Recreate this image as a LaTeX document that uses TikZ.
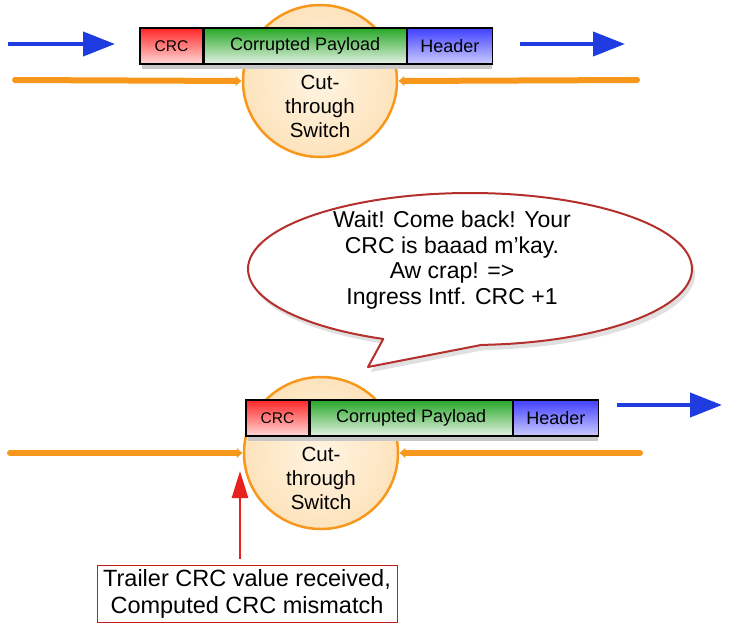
\documentclass[tikz,border=0pt]{standalone}
\usepackage{fontspec}
\setmainfont{Liberation Sans}
\usetikzlibrary{shapes.geometric,arrows.meta}
\definecolor{barblue}{HTML}{1F3CE0}
\definecolor{orng}{HTML}{F7981D}
\definecolor{swfill}{HTML}{FDE3BC}
\definecolor{swin}{HTML}{FFF4E2}
\definecolor{bubred}{HTML}{B3302C}
\definecolor{arrred}{HTML}{E8201E}
\tikzset{
  blueArrow/.style={draw=barblue,line width=4pt,-{Triangle[length=32pt,width=24pt]}},
  orangeLine/.style={draw=orng,line width=6pt,line cap=round,-{Latex[length=6pt,width=11pt]}},
  switchNode/.style={ellipse,draw=orng,line width=2.5pt,minimum width=154pt,minimum height=152pt,inner color=swin,outer color=swfill,inner sep=0pt},
  swText/.style={align=center,font=\fontsize{20.5}{24}\selectfont},
  pktFrame/.style={rectangle,draw=black,line width=2pt,minimum width=350pt,minimum height=36pt,inner sep=0pt,fill=white,
    preaction={fill=black!22,draw=none,transform canvas={xshift=2pt,yshift=-5pt}}},
  pktPart/.style={rectangle,draw=black,line width=1.2pt,minimum height=36pt,inner sep=0pt,font=\fontsize{18}{20}\selectfont},
  crcPart/.style={pktPart,minimum width=63pt,top color=red!85!white,bottom color=red!15!white,font=\fontsize{15.5}{17}\selectfont},
  payPart/.style={pktPart,minimum width=202pt,top color=green!60!black!85!white,bottom color=green!45!black!10!white},
  hdrPart/.style={pktPart,minimum width=85pt,top color=blue!75!white,bottom color=blue!20!white},
  bubble/.style={draw=bubred,line width=2pt,fill=white,line join=round,
    preaction={fill=black!12,draw=none,transform canvas={xshift=3pt,yshift=-5pt}}},
  bigText/.style={align=center,font=\fontsize{23}{25.5}\selectfont},
  redArrow/.style={draw=arrred,line width=2.5pt,-{Triangle[length=27pt,width=16pt]}},
  noteBox/.style={rectangle,draw=arrred!85!black,line width=1pt,fill=white,align=center,minimum width=300pt,minimum height=57pt,inner sep=0pt,font=\fontsize{23.5}{27}\selectfont}
}
\begin{document}
\begin{tikzpicture}[x=1pt,y=-1pt]
\useasboundingbox[fill=white] (0,0) rectangle (732,630);

% ---------- top section ----------
\node[switchNode] (sw1) at (320,81) {};
\node[swText] (sw1t) at (320,106) {Cut-\\through\\Switch};
\coordinate (ol1) at (15,80);
\coordinate (or1) at (637,80);
\draw[orangeLine] (ol1) -- (sw1.west);
\draw[orangeLine] (or1) -- (sw1.east);
\node[pktFrame] (pk1) at (315,46) {};
\node[crcPart] (crc1) at (171.5,46) {CRC};
\node[payPart,anchor=west] (pay1) at (crc1.east) {Corrupted Payload};
\node[hdrPart,anchor=west] (hdr1) at (pay1.east) {Header};
\coordinate (ba1s) at (8,44);
\coordinate (ba1e) at (115,44);
\draw[blueArrow] (ba1s) -- (ba1e);
\coordinate (ba2s) at (520,44);
\coordinate (ba2e) at (625,44);
\draw[blueArrow] (ba2s) -- (ba2e);

% ---------- speech bubble ----------
\coordinate (bubc) at (470,269);
\coordinate (tip) at (368,367);
\path[bubble] (bubc) ++(273:222pt and 76pt)
  arc[start angle=273, end angle=607, x radius=222pt, y radius=76pt]
  -- (tip) -- cycle;
\node[bigText] (bubt) at (452,260) {Wait! Come back! Your\\CRC is baaad m'kay.\\Aw crap! =>\\Ingress Intf. CRC +1};

% ---------- bottom section ----------
\node[switchNode] (sw2) at (321,453) {};
\node[swText] (sw2t) at (321,478) {Cut-\\through\\Switch};
\coordinate (ol2) at (10,453);
\coordinate (or2) at (640,453);
\draw[orangeLine] (ol2) -- (sw2.west);
\draw[orangeLine] (or2) -- (sw2.east);
\node[pktFrame] (pk2) at (421,418) {};
\node[crcPart] (crc2) at (277.5,418) {CRC};
\node[payPart,anchor=west] (pay2) at (crc2.east) {Corrupted Payload};
\node[hdrPart,anchor=west] (hdr2) at (pay2.east) {Header};
\coordinate (ba3s) at (617,405);
\coordinate (ba3e) at (722,405);
\draw[blueArrow] (ba3s) -- (ba3e);

% ---------- note ----------
\node[noteBox] (note) at (247,594) {Trailer CRC value received,\\Computed CRC mismatch};
\coordinate (rs) at (240,559);
\coordinate (rt) at (240,471);
\draw[redArrow] (rs) -- (rt);
\end{tikzpicture}
\end{document}
